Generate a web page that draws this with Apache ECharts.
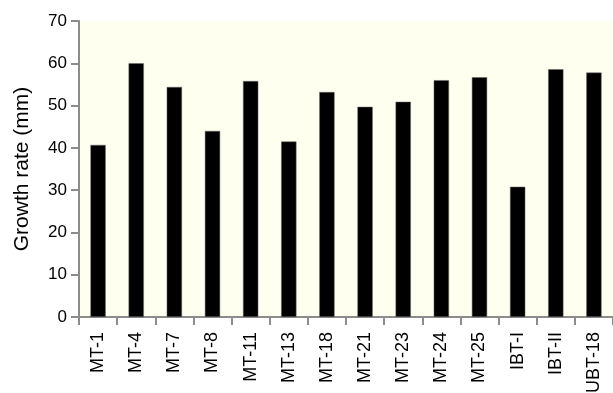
<!DOCTYPE html>
<html>
<head>
<meta charset="utf-8">
<script src="https://cdn.jsdelivr.net/npm/echarts@6/dist/echarts.min.js"></script>
<style>
  html, body { margin: 0; padding: 0; background: #fff; }
  #chart { width: 613px; height: 393px; }
</style>
</head>
<body>
<div id="chart"></div>
<script>
// strains on the x axis
var categories = ['MT-1', 'MT-4', 'MT-7', 'MT-8', 'MT-11', 'MT-13', 'MT-18', 'MT-21', 'MT-23', 'MT-24', 'MT-25', 'IBT-I', 'IBT-II', 'UBT-18'];
// growth rate (mm)
var growthRate = [40.7, 60.0, 54.4, 44.0, 55.8, 41.5, 53.2, 49.7, 50.9, 56.0, 56.7, 30.8, 58.6, 57.8];
var yMin = 0, yMax = 70, yStep = 10;

var myChart = echarts.init(document.getElementById('chart'));
var fontFamily = '"Liberation Sans", Arial, Helvetica, sans-serif';
var axisGray = '#8c8c8c';

var option = {
  animation: false,
  grid: {
    left: 79,
    right: 0,
    top: 21,
    bottom: 76,
    containLabel: false,
    outerBoundsMode: 'none',
    show: true,
    backgroundColor: '#fffff0',
    borderWidth: 0
  },
  xAxis: {
    type: 'category',
    data: categories,
    axisLine: { lineStyle: { color: axisGray, width: 2 } },
    axisTick: { show: true, length: 8, lineStyle: { color: axisGray, width: 2 } },
    axisLabel: {
      rotate: 90,
      interval: 0,
      margin: 15,
      color: '#000',
      fontSize: 18,
      fontFamily: fontFamily
    }
  },
  yAxis: {
    type: 'value',
    min: yMin,
    max: yMax,
    interval: yStep,
    name: 'Growth rate (mm)',
    nameLocation: 'middle',
    nameGap: 46,
    nameTextStyle: { color: '#000', fontSize: 21, fontFamily: fontFamily },
    axisLine: { show: true, lineStyle: { color: axisGray, width: 2 } },
    axisTick: { show: true, length: 8, lineStyle: { color: axisGray, width: 2 } },
    axisLabel: { color: '#000', fontSize: 17, fontFamily: fontFamily, margin: 12 },
    splitLine: { show: false }
  },
  series: [{
    type: 'bar',
    data: growthRate,
    barWidth: '40%',
    itemStyle: { color: '#000', borderColor: '#666', borderWidth: 0.5 }
  }]
};
myChart.setOption(option);
</script>
</body>
</html>
